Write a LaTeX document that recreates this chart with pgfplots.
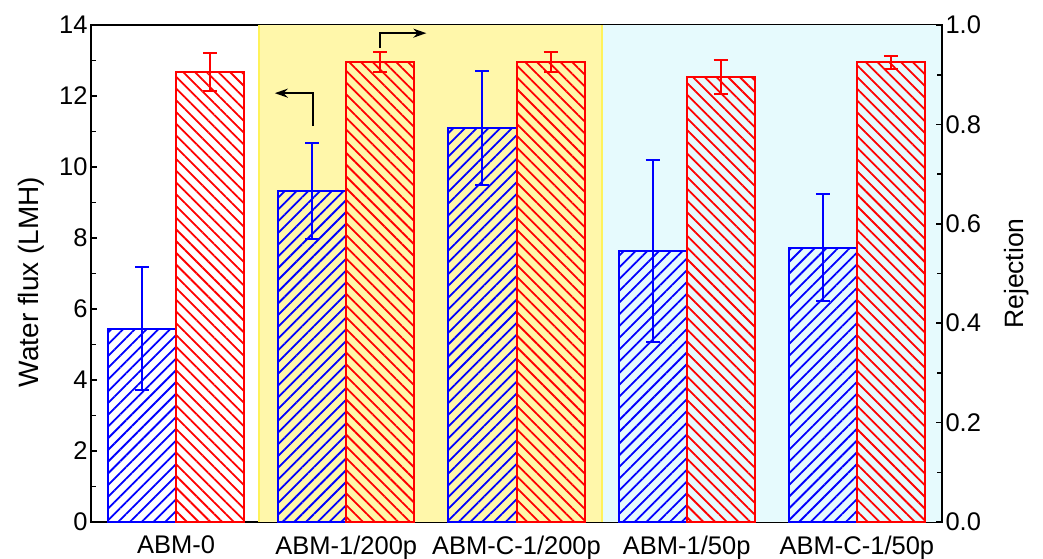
\documentclass[border=0pt]{standalone}
\usepackage{pgfplots}
\pgfplotsset{compat=1.18}
\usepackage{fontspec}
\setmainfont{Liberation Sans}
\usetikzlibrary{patterns.meta,arrows.meta}
\definecolor{bgyellow}{RGB}{255,247,170}
\definecolor{bgyellowedge}{RGB}{255,242,90}
\definecolor{bgcyan}{RGB}{230,250,253}
\definecolor{myblue}{RGB}{0,0,255}
\definecolor{myred}{RGB}{255,0,0}

\pgfplotstableread{
x y e
0 5.45 1.73
1 9.32 1.35
2 11.10 1.60
3 7.64 2.57
4 7.73 1.50
}\fluxdata

\pgfplotstableread{
x y e
0 0.905 0.038
1 0.926 0.020
2 0.926 0.020
3 0.896 0.034
4 0.925 0.013
}\rejdata

\begin{document}
\begin{tikzpicture}
\pgfplotsset{
  common/.style={
    width=851pt, height=497pt, scale only axis,
    at={(0,0)}, anchor=south west,
    xmin=-0.5, xmax=4.5,
    axis line style={line width=1.6pt, black},
    tick style={line width=1.6pt, black},
    major tick length=6pt, minor tick length=5pt,
    tick align=inside,
    ticklabel style={font=\fontsize{25.5}{30}\selectfont},
    /pgf/number format/assume math mode=true,
  }
}
\begin{axis}[common,
  ymin=0, ymax=14,
  ytick={0,2,...,14}, minor y tick num=1,
  ytick pos=left,
  xtick={0,1,2,3,4},
  xticklabels={ABM-0, ABM-1/200p, ABM-C-1/200p, ABM-1/50p, ABM-C-1/50p},
  x tick style={draw=none},
  xtick pos=bottom,
  xticklabel style={yshift=-4pt},
  ylabel={Water flux (LMH)},
  ylabel style={font=\fontsize{28}{33}\selectfont, at={(axis description cs:-0.0705,0.483)}, anchor=center, rotate=0},
  ybar, bar width=0.4,
]
\fill[bgyellow] (axis cs:0.485,0) rectangle (axis cs:2.51,14);
\draw[bgyellowedge, line width=2.5pt] (axis cs:0.487,0) -- (axis cs:0.487,14);
\draw[bgyellowedge, line width=2pt] (axis cs:2.505,0) -- (axis cs:2.505,14);
\fill[bgcyan] (axis cs:2.51,0) rectangle (axis cs:4.5,14);
\addplot[bar shift=-0.2, draw=myblue, line width=2pt,
  pattern={Lines[angle=45, distance=8.3pt, line width=1.8pt]}, pattern color=myblue,
  error bars/.cd, y dir=both, y explicit,
  error bar style={line width=2pt, myblue},
  error mark options={myblue, line width=2pt, mark size=7pt, rotate=90}]
  table[x=x, y=y, y error=e] {\fluxdata};
\draw[line width=2pt, -{Stealth[length=13pt, width=9pt]}]
  (axis cs:0.806,11.15) -- (axis cs:0.806,12.08) -- (axis cs:0.58,12.08);
\draw[line width=2pt, -{Stealth[length=13pt, width=9pt]}]
  (axis cs:1.2,13.36) -- (axis cs:1.2,13.77) -- (axis cs:1.47,13.77);
\end{axis}
\begin{axis}[common,
  ymin=0, ymax=1,
  ytick={0,0.2,...,1.0}, minor y tick num=1,
  axis y line*=right,
  axis x line=none,
  yticklabel style={/pgf/number format/.cd, fixed, fixed zerofill, precision=1},
  ylabel={Rejection},
  ylabel style={font=\fontsize{26.5}{31}\selectfont, at={(axis description cs:1.088,0.5)}, anchor=center, rotate=0},
  ybar, bar width=0.4,
]
\addplot[bar shift=0.2, draw=myred, line width=2pt,
  pattern={Lines[angle=-45, distance=8.3pt, line width=1.8pt]}, pattern color=myred,
  error bars/.cd, y dir=both, y explicit,
  error bar style={line width=2pt, myred},
  error mark options={myred, line width=2pt, mark size=7pt, rotate=90}]
  table[x=x, y=y, y error=e] {\rejdata};
\end{axis}
\pgfresetboundingbox
\useasboundingbox (-91pt,-36pt) rectangle (952pt,522pt);
\end{tikzpicture}
\end{document}
